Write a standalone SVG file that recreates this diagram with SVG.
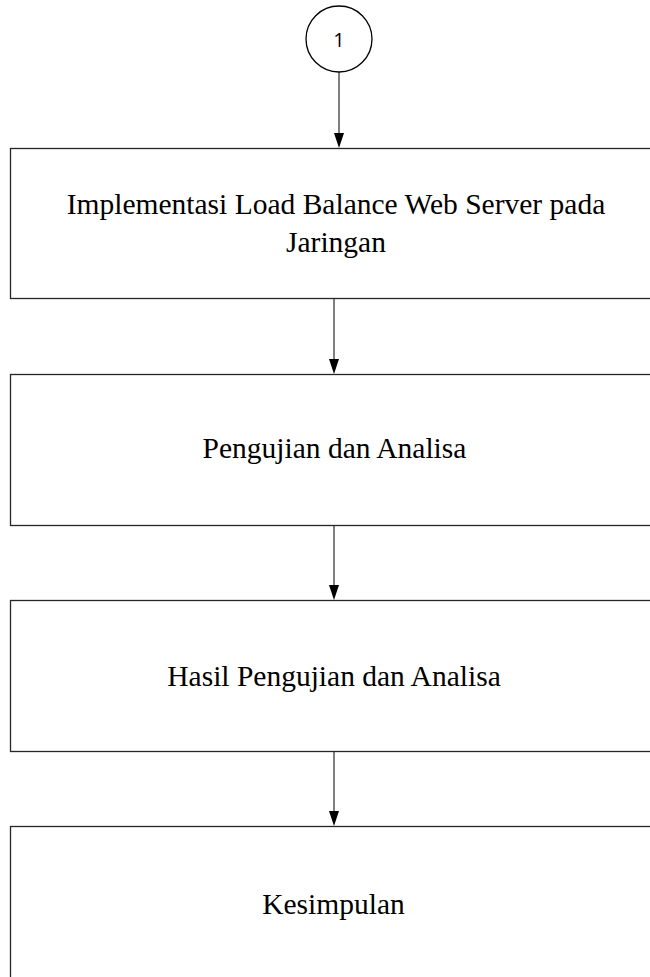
<svg xmlns="http://www.w3.org/2000/svg" width="650" height="977" viewBox="0 0 650 977">
<defs>
<style>
.box{fill:#fff;stroke:#262626;stroke-width:1.3}
.t{font-family:"Liberation Serif","Times New Roman",serif;font-size:29.5px;fill:#000;text-anchor:middle}
.c{fill:#fff;stroke:#000;stroke-width:1.3}
.n{font-family:"Open Sans","Liberation Sans",Arial,sans-serif;font-size:20px;fill:#000;text-anchor:middle}
.ln{stroke:#000;stroke-width:1;fill:none}
.ah{fill:#000}
</style>
</defs>
<rect width="650" height="977" fill="#fff"/>
<g id="connectors">
<line class="ln" x1="339" y1="72" x2="339" y2="136"/>
<path class="ah" d="M334,133 L344,133 L339,148 Z"/>
<line class="ln" x1="334" y1="299" x2="334" y2="362"/>
<path class="ah" d="M329,359 L339,359 L334,374 Z"/>
<line class="ln" x1="334" y1="526" x2="334" y2="588"/>
<path class="ah" d="M329,585 L339,585 L334,600 Z"/>
<line class="ln" x1="334" y1="752" x2="334" y2="814"/>
<path class="ah" d="M329,811 L339,811 L334,826 Z"/>
</g>
<g id="node-1">
<circle class="c" cx="339" cy="39" r="33"/>
<text class="n" x="339" y="47">1</text>
</g>
<g id="node-implementasi">
<rect class="box" x="10.5" y="148.5" width="652" height="150"/>
<text class="t" x="336" y="214">Implementasi Load Balance Web Server pada</text>
<text class="t" x="336" y="252">Jaringan</text>
</g>
<g id="node-pengujian">
<rect class="box" x="10.5" y="374.5" width="652" height="151"/>
<text class="t" x="334.5" y="458">Pengujian dan Analisa</text>
</g>
<g id="node-hasil">
<rect class="box" x="10.5" y="600.5" width="652" height="151"/>
<text class="t" x="334" y="686">Hasil Pengujian dan Analisa</text>
</g>
<g id="node-kesimpulan">
<rect class="box" x="10.5" y="826.5" width="652" height="170"/>
<text class="t" x="333.5" y="914">Kesimpulan</text>
</g>
</svg>
